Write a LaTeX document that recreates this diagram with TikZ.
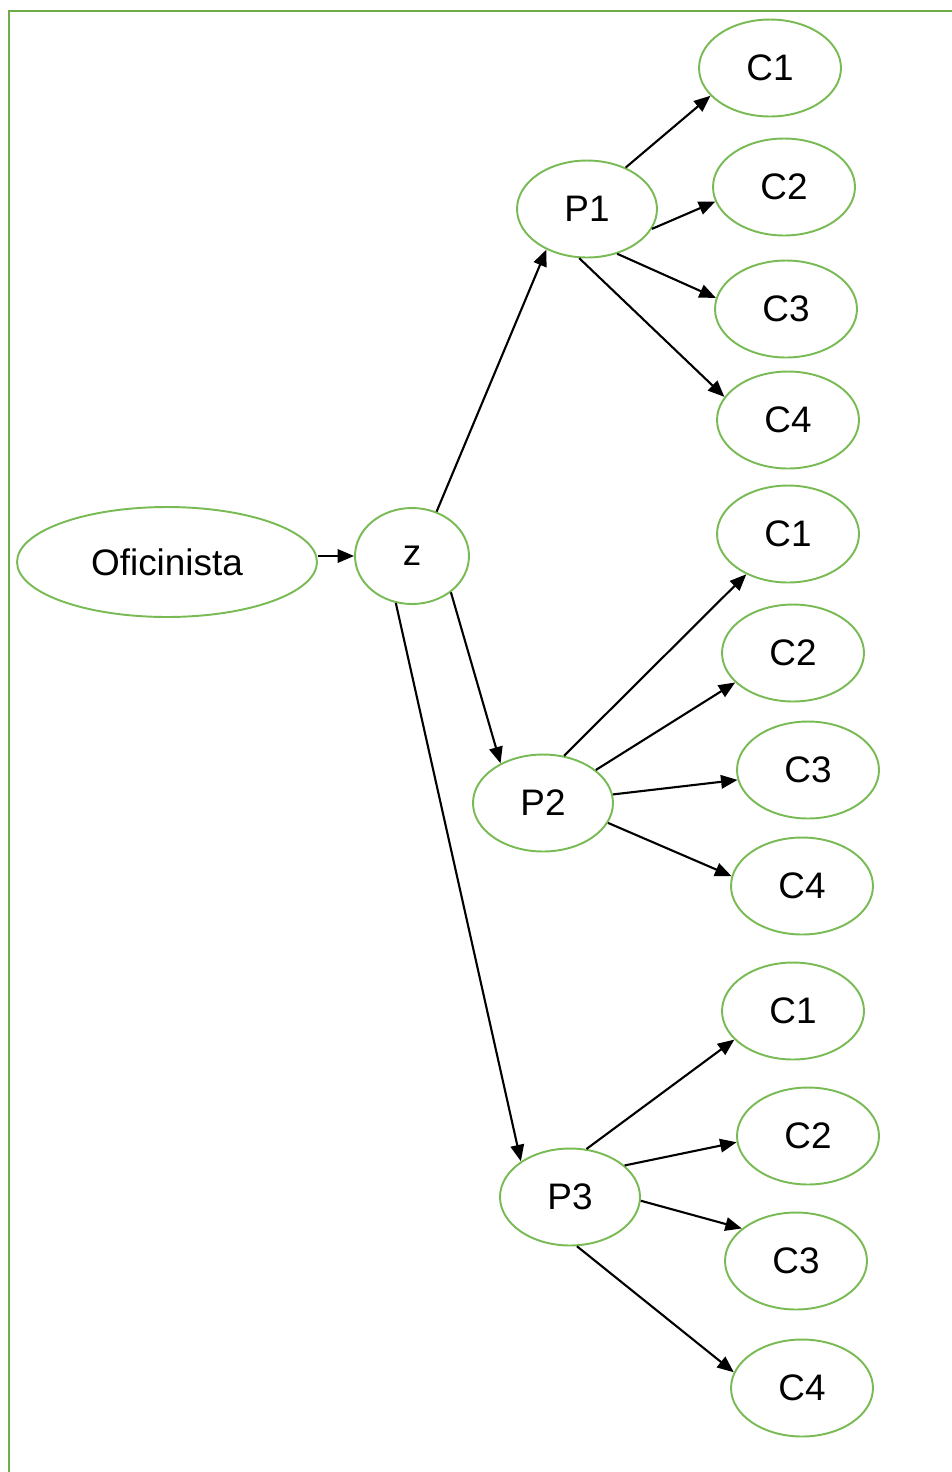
\documentclass[tikz,border=0pt]{standalone}
\usepackage{fontspec}
\setmainfont{Liberation Sans}
\usetikzlibrary{arrows.meta,shapes.geometric}
\definecolor{leafgreen}{RGB}{120,186,84}
\definecolor{framegreen}{RGB}{112,173,71}
\tikzset{
  oval/.style={
    draw=leafgreen,
    line width=1.1pt,
    ellipse,
    inner sep=0pt,
    minimum width=2.84cm,
    minimum height=1.94cm,
    font=\fontsize{21}{25}\selectfont,
  },
  parent/.style={oval, minimum width=2.8cm},
  root/.style={oval, minimum width=2.28cm, minimum height=1.92cm},
  arr/.style={-{Triangle[length=3.3mm, width=2.7mm]}, line width=1.2pt},
}

\begin{document}
\begin{tikzpicture}[x=0.02cm, y=-0.02cm]
  \useasboundingbox (0,0) rectangle (952,1472);
  \draw[framegreen, line width=1.3pt] (9,11) rectangle (980,1500);

  \node[oval, minimum width=6cm, minimum height=2.2cm] (ofi) at (167,562) {Oficinista};
  \node[root] (z) at (412,556) {z};

  \node[parent] (p1) at (587,209) {P1};
  \node[parent] (p2) at (543,803) {P2};
  \node[parent] (p3) at (570,1197) {P3};

  \node[oval] (p1c1) at (770,68) {C1};
  \node[oval] (p1c2) at (784,187) {C2};
  \node[oval] (p1c3) at (786,309) {C3};
  \node[oval] (p1c4) at (788,420) {C4};

  \node[oval] (p2c1) at (788,534) {C1};
  \node[oval] (p2c2) at (793,653) {C2};
  \node[oval] (p2c3) at (808,770) {C3};
  \node[oval] (p2c4) at (802,886) {C4};

  \node[oval] (p3c1) at (793,1011) {C1};
  \node[oval] (p3c2) at (808,1136) {C2};
  \node[oval] (p3c3) at (796,1261) {C3};
  \node[oval] (p3c4) at (802,1388) {C4};

  \draw[arr] (ofi.east |- z.west) -- (z.west);
  \draw[arr] (z.61) -- (p1.225);
  \draw[arr] (z.-43) -- (p2.137);
  \draw[arr] (z.251) -- (p3.144);

  \draw[arr] (p1.47) -- (p1c1.205);
  \draw[arr] (p1.-17) -- (p1c2.192);
  \draw[arr] (p1.-56) -- (p1c3.171);
  \draw[arr] (p1.261) -- (p1c4.160);

  \draw[arr] (p2.66) -- (p2c1.224);
  \draw[arr] (p2.32) -- (p2c2.207);
  \draw[arr] (p2.7) -- (p2c3.188);
  \draw[arr] (p2.-17) -- (p2c4.172);

  \draw[arr] (p3.71) -- (p3c1.206);
  \draw[arr] (p3.30) -- (p3c2.185);
  \draw[arr] (p3.-3) -- (p3c3.149);
  \draw[arr] (p3.-82) -- (p3c4.167);
\end{tikzpicture}
\end{document}
